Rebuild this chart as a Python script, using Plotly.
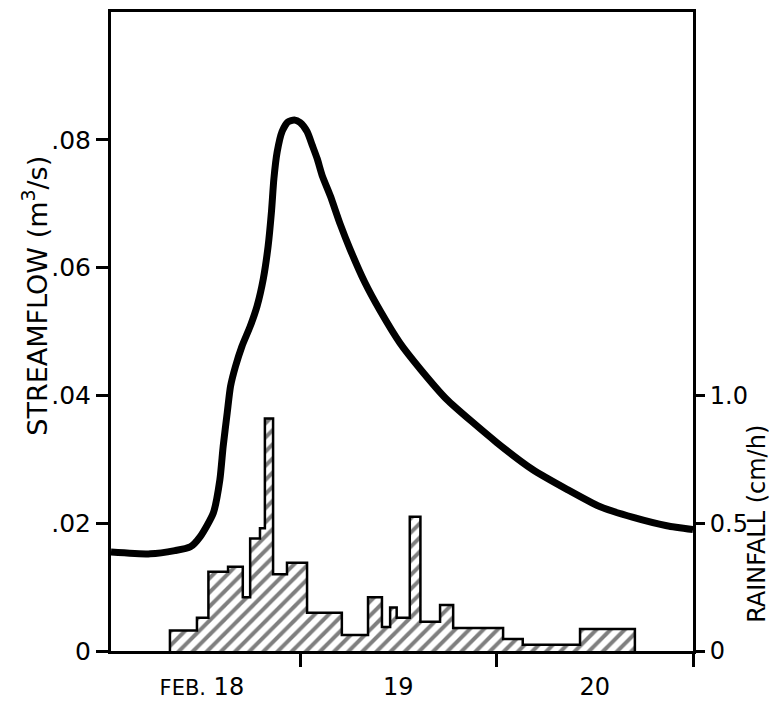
import plotly.graph_objects as go

# ---- data ----
# streamflow hydrograph: hours from Feb 18 00:00, discharge (m3/s)
flow_hours = [0.9, 5.7, 8.7, 10.6, 11.8, 13.4, 14.2, 14.6, 15.1, 15.5, 16.1, 16.9, 17.9,
              18.75, 19.5, 20.1, 20.5, 20.8, 21.2, 21.8, 22.5, 23.3, 24.0, 24.85, 25.5,
              26.1, 26.7, 27.7, 28.9, 30.1, 31.9, 33.8, 36.2, 38.7, 41.9, 48.05, 52.4,
              56.6, 60.6, 64.7, 68.8, 72.0]
flow_values = [0.0155, 0.0152, 0.0157, 0.0163, 0.0179, 0.0216, 0.0268, 0.0320, 0.0373,
               0.0414, 0.0445, 0.0477, 0.0508, 0.0540, 0.0582, 0.0634, 0.0687, 0.0739,
               0.0781, 0.0813, 0.0828, 0.0831, 0.0827, 0.0813, 0.0791, 0.0770, 0.0744,
               0.0712, 0.0668, 0.0629, 0.0577, 0.0532, 0.0482, 0.0441, 0.0394, 0.0326,
               0.0284, 0.0253, 0.0226, 0.0209, 0.0196, 0.0190]

# rainfall hyetograph: interval edges (hours) and intensity (cm/h)
rain_edges = [8.1, 11.4, 12.8, 15.2, 17.0, 17.9, 19.1, 19.7, 20.7, 22.4, 24.85, 29.1,
              32.3, 34.0, 35.0, 35.8, 37.4, 38.7, 41.1, 42.7, 48.8, 51.2, 58.2, 64.9]
rain_values = [0.08, 0.13, 0.31, 0.33, 0.21, 0.44, 0.48, 0.91, 0.30, 0.345, 0.15, 0.063,
               0.21, 0.094, 0.17, 0.13, 0.525, 0.114, 0.18, 0.09, 0.047, 0.024, 0.086]

day_tick_hours = [12, 36, 60]
day_labels = ["<span style='font-size:21px'>FEB.</span> 18", "19", "20"]
midnight_hours = [24, 48, 72]

flow_ticks = [0, 0.02, 0.04, 0.06, 0.08]
flow_ticktext = ["0", ".02", ".04", ".06", ".08"]
rain_ticks = [0, 0.5, 1.0]
rain_ticktext = ["0", "0.5", "1.0"]

# ---- figure ----
FONT = "DejaVu Sans"
fig = go.Figure()

mids = [(a + b) / 2 for a, b in zip(rain_edges[:-1], rain_edges[1:])]
widths = [b - a for a, b in zip(rain_edges[:-1], rain_edges[1:])]

fig.add_trace(go.Bar(
    x=mids, y=rain_values, width=widths, yaxis="y2",
    marker=dict(color="white", line=dict(width=0),
                pattern=dict(shape="/", fgcolor="black", bgcolor="white",
                             size=10, solidity=0.4, fillmode="overlay")),
    showlegend=False, hoverinfo="skip"))

# step outline of the hyetograph
fig.add_trace(go.Scatter(
    x=[rain_edges[0]] + rain_edges, y=[0] + rain_values + [0],
    yaxis="y2", mode="lines", line=dict(color="black", width=2.5, shape="hv"),
    showlegend=False, hoverinfo="skip"))

fig.add_trace(go.Scatter(
    x=flow_hours, y=flow_values, mode="lines",
    line=dict(color="black", width=7, shape="spline", smoothing=0.6),
    showlegend=False))

fig.update_layout(
    width=769, height=694,
    margin=dict(l=103, r=84, t=1, b=50),
    paper_bgcolor="white", plot_bgcolor="white",
    font=dict(family=FONT, size=25, color="black"),
    bargap=0,
    xaxis=dict(range=[0.9, 72], tickmode="array", tickvals=day_tick_hours,
               ticktext=day_labels, ticks="", showgrid=False, zeroline=False,
               showline=True, linewidth=3, linecolor="black", mirror=True,
               tickfont=dict(size=24), ticklabelstandoff=12,
               minor=dict(tickmode="array", tickvals=midnight_hours, ticks="outside",
                          ticklen=13, tickwidth=2.5, tickcolor="black", showgrid=False)),
    yaxis=dict(range=[0, 0.1], tickmode="array", tickvals=flow_ticks,
               ticktext=flow_ticktext, ticks="outside", ticklen=12, tickwidth=2.5,
               tickcolor="black", showgrid=False, zeroline=False, showline=True,
               linewidth=3, linecolor="black", tickfont=dict(size=25)),
    yaxis2=dict(range=[0, 2.5], overlaying="y", side="right", tickmode="array",
                tickvals=rain_ticks, ticktext=rain_ticktext, ticks="outside",
                ticklen=9, tickwidth=2.5, tickcolor="black", showgrid=False,
                zeroline=False, showline=True, linewidth=3, linecolor="black",
                tickfont=dict(size=24)),
    annotations=[
        dict(text="STREAMFLOW (m<sup>3</sup>/s)", xref="paper", yref="paper",
             x=-0.1306, y=0.556, textangle=-90, showarrow=False,
             font=dict(family=FONT, size=27), xanchor="center", yanchor="middle"),
        dict(text="RAINFALL (cm/h)", xref="paper", yref="paper",
             x=1.1100, y=0.199, textangle=-90, showarrow=False,
             font=dict(family=FONT, size=24), xanchor="center", yanchor="middle"),
    ],
)

fig.write_html("out.html")
